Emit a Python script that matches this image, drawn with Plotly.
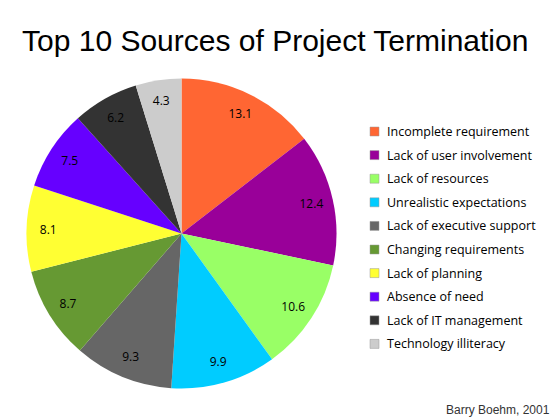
import plotly.graph_objects as go

categories = ["Incomplete requirement", "Lack of user involvement", "Lack of resources",
              "Unrealistic expectations", "Lack of executive support", "Changing requirements",
              "Lack of planning", "Absence of need", "Lack of IT management", "Technology illiteracy"]
values = [13.1, 12.4, 10.6, 9.9, 9.3, 8.7, 8.1, 7.5, 6.2, 4.3]
colors = ["#FF6633", "#990099", "#99FF66", "#00CCFF", "#666666",
          "#669933", "#FFFF33", "#6600FF", "#333333", "#CCCCCC"]

W, H = 559, 420
cx, cy, r = 181.5, 233.5, 155
domain = dict(x=[(cx - r) / W, (cx + r) / W], y=[(H - cy - r) / H, (H - cy + r) / H])

fig = go.Figure()
fig.add_trace(go.Pie(
    labels=categories, values=values, sort=False, direction="clockwise", rotation=0,
    marker=dict(colors=colors, line=dict(width=0)),
    textinfo="none", domain=domain, showlegend=False, hoverinfo="label+value",
))
# transparent ring overlay: places value labels near the outer part of each slice
fig.add_trace(go.Pie(
    labels=categories, values=values, sort=False, direction="clockwise", rotation=0,
    hole=0.72, marker=dict(colors=["rgba(0,0,0,0)"] * len(values), line=dict(width=0)),
    textinfo="value", textposition="inside", insidetextorientation="horizontal",
    textfont=dict(family="Open Sans", size=12, color="black"),
    domain=domain, showlegend=False, hoverinfo="skip",
))

annotations = [
    dict(text="Top 10 Sources of Project Termination", x=275 / W, y=(H - 41) / H, xref="paper", yref="paper",
         showarrow=False, xanchor="center", yanchor="middle",
         font=dict(family="Liberation Sans", size=30, color="black")),
    dict(text="Barry Boehm, 2001", x=552 / W, y=(H - 410) / H, xref="paper", yref="paper",
         showarrow=False, xanchor="right", yanchor="middle",
         font=dict(family="Liberation Sans", size=12, color="#333333")),
]
shapes = []
y0, dy = 131.5, 23.6
for i, (name, col) in enumerate(zip(categories, colors)):
    yc = y0 + i * dy
    annotations.append(dict(text=name, x=385 / W, y=(H - yc) / H, xref="paper", yref="paper",
                            showarrow=False, xanchor="left", yanchor="middle",
                            font=dict(family="Open Sans", size=12.5, color="black")))
    shapes.append(dict(type="rect", xref="paper", yref="paper",
                       x0=370 / W, x1=379 / W, y0=(H - yc - 4.5) / H, y1=(H - yc + 4.5) / H,
                       fillcolor=col, line=dict(width=0.5, color="#999999")))

fig.update_layout(width=W, height=H, margin=dict(l=0, r=0, t=0, b=0),
                  paper_bgcolor="white", plot_bgcolor="white",
                  annotations=annotations, shapes=shapes)
fig.write_html("out.html")
